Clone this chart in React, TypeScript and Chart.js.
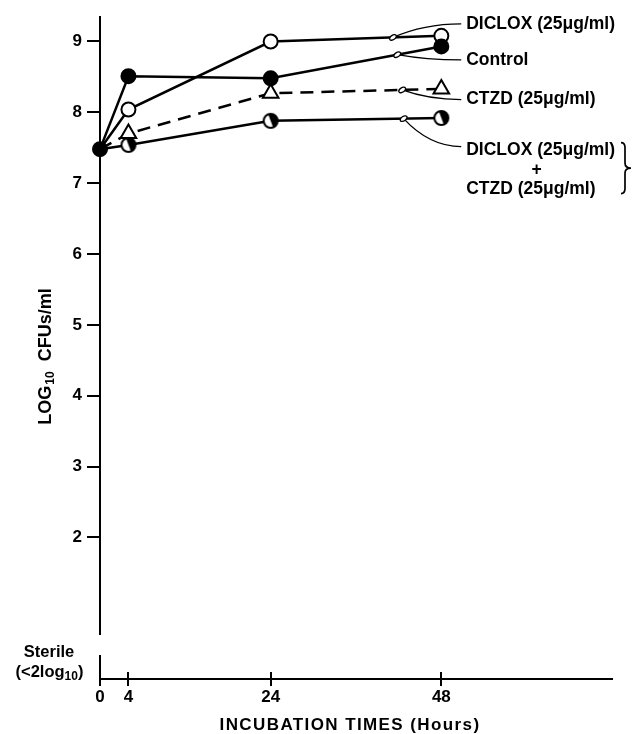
import React, { useEffect, useRef } from "react";
import { Chart, registerables } from "chart.js";

Chart.register(...registerables);

// ---- data ----
const hours = [0, 4, 24, 48];
const controlValues = [7.48, 8.51, 8.48, 8.93];
const dicloxValues = [7.48, 8.04, 9.0, 9.08];
const ctzdValues = [7.48, 7.7, 8.27, 8.33];
const comboValues = [7.48, 7.54, 7.88, 7.92];

const xTickValues = [0, 4, 24, 48];
const yTickValues = [2, 3, 4, 5, 6, 7, 8, 9];

const seriesNames = ["CTZD (25\u03bcg/ml)", "Control", "DICLOX (25\u03bcg/ml)", "DICLOX (25\u03bcg/ml) + CTZD (25\u03bcg/ml)"];

// axis ranges
const X_MIN = 0;
const X_MAX = 72;
const Y_MIN = 0;
const Y_MAX = 9.36;
const Y_BREAK_LOW = 0.34;
const Y_BREAK_HIGH = 0.62;

// annotation layout (data units)
const leaderHours = [42.5, 41.8, 41.2, 42.7]; // where leader lines touch each series (same order as datasets)
const labelX = 51.5;
const labelYs = [8.18, 8.74, 9.25, 7.46]; // CTZD, Control, DICLOX, combo first row
const comboRowYs = [7.46, 7.19, 6.91];
const plusX = 61.4;

const FONT = '"Liberation Sans", Arial, sans-serif';

function makeHalfCircle(): HTMLCanvasElement {
  const c = document.createElement("canvas");
  c.width = 20;
  c.height = 20;
  const g = c.getContext("2d")!;
  const cx = 10, cy = 10, r = 7;
  g.beginPath();
  g.arc(cx, cy, r, 0, Math.PI * 2);
  g.fillStyle = "#fff";
  g.fill();
  g.beginPath();
  g.arc(cx, cy, r, -Math.PI / 2 - 0.35, Math.PI / 2 - 0.35);
  g.closePath();
  g.fillStyle = "#000";
  g.fill();
  g.beginPath();
  g.arc(cx, cy, r, 0, Math.PI * 2);
  g.lineWidth = 2;
  g.strokeStyle = "#000";
  g.stroke();
  return c;
}

const toPoints = (vals: number[]) => hours.map((h, i) => ({ x: h, y: vals[i] }));

const annotPlugin = {
  id: "annot",
  beforeDatasetsDraw(chart: any) {
    const { ctx, chartArea: a, scales } = chart;
    const x = scales.x, y = scales.y;
    ctx.save();
    ctx.strokeStyle = "#000";
    ctx.lineWidth = 2;
    const ax = Math.round(a.left);
    ctx.beginPath();
    ctx.moveTo(ax, a.top);
    ctx.lineTo(ax, y.getPixelForValue(Y_BREAK_HIGH));
    ctx.moveTo(ax, y.getPixelForValue(Y_BREAK_LOW));
    ctx.lineTo(ax, a.bottom + 1);
    xTickValues.slice(1).forEach((v) => {
      const px = Math.round(x.getPixelForValue(v));
      ctx.moveTo(px, a.bottom);
      ctx.lineTo(px, a.bottom - 7);
    });
    ctx.stroke();
    ctx.restore();
  },
  afterDraw(chart: any) {
    const { ctx, chartArea: a, scales } = chart;
    const x = scales.x, y = scales.y;
    ctx.save();
    ctx.fillStyle = "#000";
    ctx.strokeStyle = "#000";

    // leader lines + labels
    const lx = x.getPixelForValue(labelX);
    ctx.font = `bold 17.5px ${FONT}`;
    ctx.textBaseline = "middle";
    ctx.textAlign = "left";
    for (let i = 0; i < 4; i++) {
      const meta = chart.getDatasetMeta(i);
      const p2 = meta.data[2], p3 = meta.data[3];
      const axp = x.getPixelForValue(leaderHours[i]);
      const t = (axp - p2.x) / (p3.x - p2.x);
      const ayp = p2.y + t * (p3.y - p2.y);
      const ey = y.getPixelForValue(labelYs[i]) + (i === 3 ? -4 : 0);
      const ex = lx - 5;
      ctx.lineWidth = 1.3;
      ctx.beginPath();
      ctx.moveTo(axp, ayp);
      ctx.quadraticCurveTo(axp + 0.45 * (ex - axp), ey, ex, ey);
      ctx.stroke();
      // small open oval mark on the series line
      ctx.beginPath();
      ctx.ellipse(axp, ayp, 3.8, 2.2, -0.6, 0, Math.PI * 2);
      ctx.fillStyle = "#fff";
      ctx.fill();
      ctx.lineWidth = 1.3;
      ctx.stroke();
      ctx.fillStyle = "#000";
    }
    ctx.fillText(seriesNames[2], lx, y.getPixelForValue(labelYs[2]));
    ctx.fillText(seriesNames[1], lx, y.getPixelForValue(labelYs[1]));
    ctx.fillText(seriesNames[0], lx, y.getPixelForValue(labelYs[0]));
    const row1 = "DICLOX (25\u03bcg/ml)";
    const row3 = "CTZD (25\u03bcg/ml)";
    ctx.fillText(row1, lx, y.getPixelForValue(comboRowYs[0]));
    ctx.textAlign = "center";
    ctx.fillText("+", x.getPixelForValue(plusX), y.getPixelForValue(comboRowYs[1]));
    ctx.textAlign = "left";
    ctx.fillText(row3, lx, y.getPixelForValue(comboRowYs[2]));

    // brace
    const bw = ctx.measureText(row1).width;
    const bx = lx + bw + 9;
    const top = y.getPixelForValue(comboRowYs[0]) - 8;
    const bot = y.getPixelForValue(comboRowYs[2]) + 4;
    const mid = (top + bot) / 2;
    ctx.lineWidth = 1.7;
    ctx.beginPath();
    ctx.moveTo(bx - 3, top);
    ctx.quadraticCurveTo(bx + 1, top, bx + 1, top + 5);
    ctx.lineTo(bx + 1, mid - 5);
    ctx.quadraticCurveTo(bx + 1, mid, bx + 7, mid);
    ctx.quadraticCurveTo(bx + 1, mid, bx + 1, mid + 5);
    ctx.lineTo(bx + 1, bot - 5);
    ctx.quadraticCurveTo(bx + 1, bot, bx - 3, bot);
    ctx.stroke();

    // y axis title (rotated, with subscript)
    ctx.save();
    ctx.translate(46, 357);
    ctx.rotate(-Math.PI / 2);
    ctx.textAlign = "left";
    ctx.textBaseline = "middle";
    const big = `bold 18px ${FONT}`;
    const small = `bold 12px ${FONT}`;
    ctx.font = big;
    const w1 = ctx.measureText("LOG").width;
    const w3 = ctx.measureText("  CFUs/ml").width;
    ctx.font = small;
    const w2 = ctx.measureText("10").width;
    let sx = -(w1 + w2 + w3) / 2;
    ctx.font = big;
    ctx.fillText("LOG", sx, 0);
    sx += w1 + 1;
    ctx.font = small;
    ctx.fillText("10", sx, 5);
    sx += w2;
    ctx.font = big;
    ctx.fillText("  CFUs/ml", sx, 0);
    ctx.restore();

    // Sterile label
    ctx.textAlign = "center";
    ctx.textBaseline = "middle";
    ctx.font = `bold 16.5px ${FONT}`;
    ctx.fillText("Sterile", 49, 652);
    {
      const f1 = `bold 16.5px ${FONT}`;
      const f2 = `bold 12px ${FONT}`;
      ctx.textAlign = "left";
      ctx.font = f1;
      const a1 = ctx.measureText("(<2log").width;
      const a3 = ctx.measureText(")").width;
      ctx.font = f2;
      const a2 = ctx.measureText("10").width;
      let px = 49.5 - (a1 + a2 + a3) / 2;
      ctx.font = f1;
      ctx.fillText("(<2log", px, 672);
      px += a1;
      ctx.font = f2;
      ctx.fillText("10", px, 677);
      px += a2;
      ctx.font = f1;
      ctx.fillText(")", px, 672);
    }

    // x axis title
    ctx.textAlign = "center";
    ctx.textBaseline = "middle";
    ctx.font = `bold 17px ${FONT}`;
    (ctx as any).letterSpacing = "1.4px";
    ctx.fillText("INCUBATION TIMES (Hours)", (a.left + a.right) / 2 - 6, 725);
    (ctx as any).letterSpacing = "0px";

    ctx.restore();
  },
};

export default function App() {
  const ref = useRef<HTMLCanvasElement | null>(null);
  useEffect(() => {
    if (!ref.current) return;
    const half = makeHalfCircle();
    const common = {
      borderColor: "#000",
      borderWidth: 2.5,
      pointBorderColor: "#000",
      pointBorderWidth: 2,
      tension: 0,
      clip: false as any,
    };
    const chart = new Chart(ref.current, {
      type: "line",
      data: {
        datasets: [
          {
            ...common,
            label: seriesNames[0],
            data: toPoints(ctzdValues),
            borderDash: [13, 8],
            pointStyle: "triangle",
            pointRadius: [0, 9, 9, 9],
            pointBackgroundColor: "#fff",
          },
          {
            ...common,
            label: seriesNames[1],
            data: toPoints(controlValues),
            pointStyle: "circle",
            pointRadius: 7,
            pointBackgroundColor: "#000",
          },
          {
            ...common,
            label: seriesNames[2],
            data: toPoints(dicloxValues),
            pointStyle: "circle",
            pointRadius: [0, 7, 7, 7],
            pointBackgroundColor: "#fff",
          },
          {
            ...common,
            label: seriesNames[3],
            data: toPoints(comboValues),
            pointStyle: half as any,
            pointRadius: [0, 7, 7, 7],
            pointBackgroundColor: "#fff",
          },
        ] as any,
      },
      options: {
        animation: false,
        responsive: false,
        events: [],
        layout: { padding: { top: 16, right: 24, left: 0, bottom: 0 } },
        plugins: { legend: { display: false }, tooltip: { enabled: false } },
        scales: {
          x: {
            type: "linear",
            min: X_MIN,
            max: X_MAX,
            afterBuildTicks: (s: any) => {
              s.ticks = xTickValues.map((v) => ({ value: v }));
            },
            afterFit: (s: any) => {
              s.height = 55;
            },
            grid: { display: true, drawOnChartArea: false, drawTicks: true, tickLength: 7, color: "#000", lineWidth: 2 },
            border: { display: true, color: "#000", width: 2 },
            ticks: {
              color: "#000",
              font: { family: FONT, size: 17, weight: "bold" },
              padding: 1,
              maxRotation: 0,
              autoSkip: false,
              callback: (v: any) => String(v),
            },
          },
          y: {
            type: "linear",
            min: Y_MIN,
            max: Y_MAX,
            afterBuildTicks: (s: any) => {
              s.ticks = yTickValues.map((v) => ({ value: v }));
            },
            afterFit: (s: any) => {
              s.width = 100;
            },
            grid: { display: true, drawOnChartArea: false, drawTicks: true, tickLength: 13, color: "#000", lineWidth: 2 },
            border: { display: false },
            ticks: {
              color: "#000",
              font: { family: FONT, size: 17, weight: "bold" },
              padding: 5,
              autoSkip: false,
              callback: (v: any) => String(v),
            },
          },
        },
      } as any,
      plugins: [annotPlugin],
    });
    return () => chart.destroy();
  }, []);
  return (
    <div style={{ position: "absolute", left: 0, top: 0, width: 636, height: 734, background: "#fff" }}>
      <canvas ref={ref} width={636} height={734} style={{ display: "block" }} />
    </div>
  );
}
